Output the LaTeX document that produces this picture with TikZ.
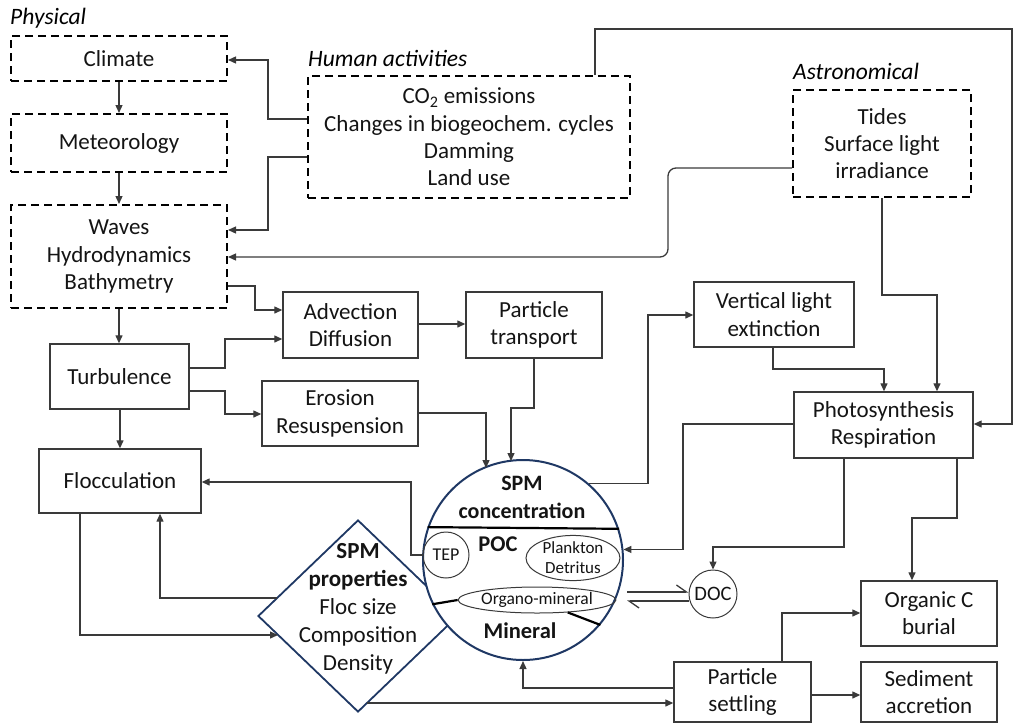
\documentclass[tikz,border=0pt]{standalone}
\usepackage{fontspec}
\setmainfont{Carlito}
\usetikzlibrary{arrows.meta,shapes.geometric}
\definecolor{navy}{HTML}{1F3864}
\definecolor{ln}{HTML}{3A3A3A}
\begin{document}
\begin{tikzpicture}[x=1pt,y=-1pt,
  txt/.style={font=\fontsize{23}{27.3}\selectfont, align=center, text=black!92},
  box/.style={txt, draw=ln, line width=1.4pt, inner sep=0pt, rectangle},
  dbox/.style={txt, draw=black, line width=2pt, dash pattern=on 8pt off 5pt, inner sep=0pt, rectangle},
  lab/.style={font=\fontsize{23.5}{26}\selectfont\itshape, anchor=west, inner sep=0pt},
  conn/.style={draw=ln, line width=1.3pt},
  arr/.style={conn, -{Triangle[length=8pt,width=7pt]}},
  harp/.style={conn, -{Straight Barb[harpoon,length=10pt,width=14pt]}},
  thick line/.style={draw=black, line width=2.2pt}
]
\path[use as bounding box] (0,0) rectangle (1014,726);

% labels
\node[lab] (lphys) at (10,18) {Physical};
\node[lab] (lhum) at (308,58) {Human activities};
\node[lab] (last) at (793,71) {Astronomical};

% dashed boxes
\node[dbox, minimum width=216pt, minimum height=45pt] (clim) at (119,58.5) {Climate};
\node[dbox, minimum width=216pt, minimum height=58pt] (met) at (119,143) {Meteorology};
\node[dbox, minimum width=216pt, minimum height=103pt] (wav) at (119,256.5) {Waves\\Hydrodynamics\\Bathymetry};
\node[dbox, minimum width=322pt, minimum height=122pt] (hum) at (469,137) {CO\textsubscript{2} emissions\\Changes in biogeochem. cycles\\Damming\\Land use};
\node[dbox, minimum width=178pt, minimum height=107pt] (tid) at (882,143.5) {Tides\\Surface light\\irradiance};

% solid boxes
\node[box, minimum width=135pt, minimum height=66pt] (adv) at (350.5,325) {Advection\\Diffusion};
\node[box, minimum width=136pt, minimum height=66pt] (pt) at (534,325) {Particle\\transport};
\node[box, minimum width=139pt, minimum height=65pt] (tur) at (119.5,376.5) {Turbulence};
\node[box, minimum width=156pt, minimum height=65pt] (ero) at (340,413.5) {Erosion\\Resuspension};
\node[box, minimum width=160pt, minimum height=65pt] (vle) at (774,314.5) {Vertical light\\extinction};
\node[box, minimum width=179pt, minimum height=66pt] (pho) at (883.5,425) {Photosynthesis\\Respiration};
\node[box, minimum width=162pt, minimum height=64pt] (flo) at (120,481) {Flocculation};
\node[box, minimum width=136pt, minimum height=65pt] (orc) at (929,613.5) {Organic C\\burial};
\node[box, minimum width=137pt, minimum height=60pt] (pse) at (742.5,692) {Particle\\settling};
\node[box, minimum width=136pt, minimum height=60pt] (sed) at (929,692) {Sediment\\accretion};

% diamond
\node[draw=navy, line width=1.8pt, diamond, minimum width=200pt, minimum height=192pt, inner sep=0pt, fill=white] (dia) at (358,616) {};
\node[txt, font=\fontsize{23}{28}\selectfont] (diat) at (358,609) {\textbf{SPM}\\\textbf{properties}\\Floc size\\Composition\\Density};

% SPM circle
\node[draw=navy, line width=2pt, circle, minimum size=200pt, inner sep=0pt, fill=white] (spm) at (523,560) {};
\draw[thick line] (spm.161.3) -- (spm.18.7);
\node[txt, font=\fontsize{22}{28}\selectfont\bfseries] (spmt) at (522,497) {SPM\\concentration};
\node[txt, font=\fontsize{22.5}{24}\selectfont\bfseries] (poc) at (498,544) {POC};
\node[draw=ln, line width=1pt, circle, minimum size=46pt, inner sep=0pt, txt, font=\fontsize{18}{22}\selectfont] (tep) at (446,555) {TEP};
\node[draw=ln, line width=1pt, ellipse, minimum width=94pt, minimum height=44pt, inner sep=0pt, txt, font=\fontsize{17}{20}\selectfont] (plk) at (573,558) {Plankton\\Detritus};
\node[draw=ln, line width=1pt, ellipse, minimum width=150pt, minimum height=26pt, inner sep=0pt, txt, font=\fontsize{17.5}{18}\selectfont] (org) at (537,600) {Organo-mineral};
\draw[thick line] (spm.206) -- (org.west);
\draw[thick line] (org.-22) -- (spm.-40);
\node[txt, font=\fontsize{22.5}{24}\selectfont\bfseries] (min) at (520,631) {Mineral};

% DOC
\node[draw=ln, line width=1pt, circle, minimum size=48pt, inner sep=0pt, txt, font=\fontsize{20.5}{22}\selectfont] (doc) at (713,594) {DOC};

% connectors
\draw[arr] (clim.south) -- (met.north);
\draw[arr] (met.south) -- (wav.north);
\draw[arr] (hum.west |- 0,119) -- (268,119) -- (268,60) -- (clim.east |- 0,60);
\draw[arr] (hum.west |- 0,157) -- (268,157) -- (268,230) -- (wav.east |- 0,230);
\draw[arr] (hum.north -| 595,0) -- (595,29) -- (1012,29) -- (1012,424) -- (pho.east |- 0,424);
\draw[arr, rounded corners=8pt] (tid.west |- 0,168) -- (668,168) -- (668,257) -- (wav.east |- 0,257);
\draw[arr] (tid.south) -- (882,295) -- (937,295) -- (pho.north -| 937,0);
\draw[arr] (wav.south) -- (tur.north -| wav.south);
\draw[arr] (wav.east |- 0,286) -- (255,286) -- (255,310) -- (adv.west |- 0,310);
\draw[arr] (tur.east |- 0,368) -- (225,368) -- (225,339) -- (adv.west |- 0,339);
\draw[arr] (tur.east |- 0,391) -- (225,391) -- (225,414) -- (ero.west |- 0,414);
\draw[arr] (adv.east |- 0,324) -- (pt.west |- 0,324);
\draw[arr] (ero.east |- 0,413) -- (486,413) -- (486,468);
\draw[arr] (pt.south -| 534,0) -- (534,408) -- (511,408) -- (511,461);
\draw[arr] (tur.south -| flo.north) -- (flo.north);
\draw[arr] (tep.west) -- (411,555) -- (411,482) -- (flo.east |- 0,482);
\draw[arr] (277,598) -- (160,598) -- (flo.south -| 160,0);
\draw[arr] (flo.south -| 80,0) -- (80,635) -- (278,635);
\draw[arr] (367,703) -- (pse.west |- 0,703);
\draw[arr] (pse.west |- 0,688) -- (523,688) -- (spm.south);
\draw[arr] (pse.north -| 782,0) -- (782,613) -- (orc.west |- 0,613);
\draw[arr] (pse.east |- 0,695) -- (sed.west |- 0,695);
\draw[arr] (spm.49) -| (648,315) -- (vle.west |- 0,315);
\draw[arr] (vle.south -| 773,0) -- (773,369) -- (884,369) -- (pho.north -| 884,0);
\draw[arr] (pho.west |- 0,424) -- (683,424) |- (spm.6);
\draw[arr] (pho.south -| 844,0) -- (844,547) -- (713,547) -- (doc.north);
\draw[arr] (pho.south -| 957,0) -- (957,518) -- (912,518) -- (orc.north -| 912,0);
\coordinate (h1) at (627,592);
\coordinate (h2) at (627,601);
\draw[harp] (h1) -- (doc.west |- h1);
\draw[harp] (doc.west |- h2) -- (h2);
\end{tikzpicture}
\end{document}
